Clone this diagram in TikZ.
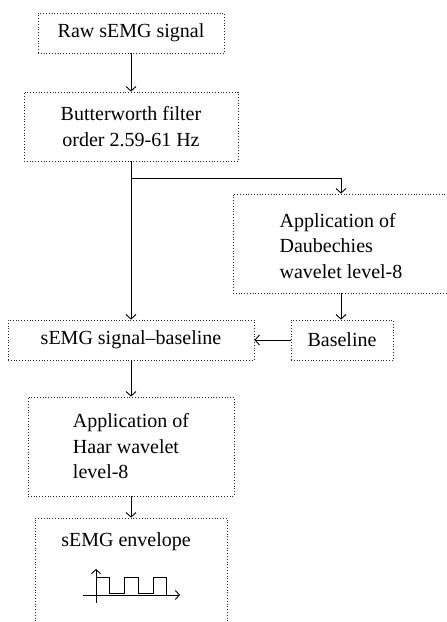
\documentclass[tikz,border=0pt]{standalone}
\usepackage{fontspec}
\setmainfont{Liberation Serif}
\usetikzlibrary{arrows.meta}
\begin{document}
\begin{tikzpicture}[x=1pt,y=-1pt,
  box/.style={draw=black!85, line width=0.8pt, dash pattern=on 0.8pt off 2pt,
    inner sep=0pt, font=\fontsize{20}{25.5}\selectfont},
  conn/.style={line width=0.9pt, -{Straight Barb[length=4.5pt,width=10pt,line width=0.9pt]}},
  ax/.style={line width=0.9pt, -{Straight Barb[length=4pt,width=9pt,line width=0.9pt]}},
  lbl/.style={inner sep=0pt, font=\fontsize{20}{25.5}\selectfont}]
\useasboundingbox (0,0) rectangle (447,622);
\fill[white] (0,0) rectangle (447,622);
\clip (0,0) rectangle (447,622);
\node[box, minimum width=186pt, minimum height=40pt] (raw) at (131,33) {Raw sEMG signal};
\node[box, minimum width=214pt, minimum height=69pt, align=center] (bw) at (131,126.5) {Butterworth filter\\order 2.59-61 Hz};
\node[box, minimum width=240pt, minimum height=99pt] (daub) at (353,243.5) {};
\node[lbl, align=left] (daubt) at (341,246) {Application of\\Daubechies\\wavelet level-8};
\node[box, minimum width=102pt, minimum height=40pt] (base) at (342,340) {Baseline};
\node[box, minimum width=246pt, minimum height=40pt] (sb) at (131,340) {sEMG signal--baseline};
\node[box, minimum width=206pt, minimum height=99pt, align=left] (haar) at (131,446.5) {Application of\\Haar wavelet\\level-8};
\node[box, minimum width=192pt, minimum height=124pt] (env) at (131,580) {};
\node[lbl] (envt) at (126,542) {sEMG envelope};
\coordinate (br) at (131,178);
\draw[conn] (raw.south) -- (bw.north);
\draw[conn] (bw.south) -- (sb.north);
\draw[conn] (br) -| (daubt |- daub.north);
\draw[conn] (daubt |- daub.south) -- (daubt |- base.north);
\draw[conn] (base.west) -- (sb.east);
\draw[conn] (sb.south) -- (haar.north);
\draw[conn] (haar.south) -- (haar.south |- env.north);
% envelope icon
\coordinate (yb) at (96,603);
\coordinate (yt) at (96,569);
\coordinate (xl) at (83,595);
\coordinate (xr) at (180,595);
\draw[ax] (yb) -- (yt);
\draw[ax] (xl) -- (xr);
\draw[line width=0.9pt] (96,577) -- (109,577) -- (109,593) -- (124,593) -- (124,577) -- (138,577) -- (138,593) -- (153,593) -- (153,577) -- (166,577) -- (166,595);
\end{tikzpicture}
\end{document}
